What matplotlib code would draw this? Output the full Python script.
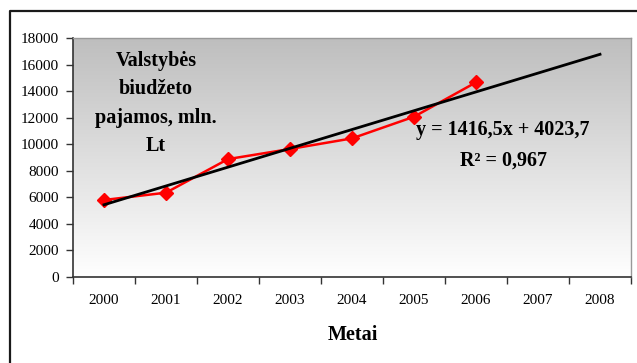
import numpy as np
import matplotlib
matplotlib.use("Agg")
import matplotlib.pyplot as plt
from matplotlib.lines import Line2D

plt.rcParams['font.family'] = ['Liberation Serif', 'DejaVu Serif']

# Budget revenue data (mln. Lt)
years = ['2000', '2001', '2002', '2003', '2004', '2005', '2006', '2007', '2008']
revenue = [5800, 6350, 8880, 9640, 10440, 12070, 14660]
# Linear trend reported for the series (x = 1, 2, ...)
trend_slope = 1416.5
trend_intercept = 4023.7
yticks = [0, 2000, 4000, 6000, 8000, 10000, 12000, 14000, 16000, 18000]

W, H = 637, 363
fig = plt.figure(figsize=(W / 100, H / 100), dpi=100)
fig.patch.set_facecolor('white')

# outer chart frame (left and top edges)
fig.add_artist(Line2D([9.5 / W, 9.5 / W, 1.0], [0.0, 1 - 10.5 / H, 1 - 10.5 / H],
                      transform=fig.transFigure, color='#1a1a1a', lw=1.6))

ax = fig.add_axes([73 / W, 1 - 277 / H, (631 - 73) / W, (277 - 38) / H])

# white-to-grey vertical gradient for the plot area (grey at the top)
grad = np.linspace(0, 1, 256).reshape(-1, 1)
cmap = matplotlib.colors.LinearSegmentedColormap.from_list('pa', ['#ffffff', '#bebebe'])
ax.imshow(grad, aspect='auto', cmap=cmap, extent=[-0.5, 8.5, 0, 18000],
          origin='lower', zorder=0)

x = np.arange(len(revenue))
ax.plot(x, revenue, color='#ff0000', lw=1.8, marker='D', markersize=7.5,
        markerfacecolor='#ff0000', markeredgecolor='#ff0000', zorder=3)

xt = np.arange(len(years))
ax.plot(xt, trend_slope * (xt + 1) + trend_intercept, color='black', lw=2.0, zorder=4)

ax.set_xlim(-0.5, 8.5)
ax.set_ylim(0, 18000)
ax.set_xticks(xt)
ax.set_xticklabels(years)
ax.set_xticks(np.arange(-0.5, 9.0, 1.0), minor=True)
ax.tick_params(axis='x', which='major', length=0, pad=12, labelsize=11)
ax.tick_params(axis='x', which='minor', length=5, width=1, direction='out', color='#333333')
ax.set_yticks(yticks)
ax.tick_params(axis='y', length=5, width=1, direction='out', pad=5, labelsize=11,
               color='#333333')

for side in ['top', 'right']:
    ax.spines[side].set_color('#999999')
    ax.spines[side].set_linewidth(1.0)
for side in ['left', 'bottom']:
    ax.spines[side].set_color('#333333')
    ax.spines[side].set_linewidth(1.2)

fig.text(156 / W, 1 - 103.5 / H, 'Valstybės\nbiudžeto\npajamos, mln.\nLt',
         ha='center', va='center', fontsize=14.5, fontweight='bold', linespacing=1.55)
fig.text(503 / W, 1 - 130 / H, 'y = 1416,5x + 4023,7', ha='center', va='center',
         fontsize=14.5, fontweight='bold')
fig.text(504 / W, 1 - 161 / H, 'R² = 0,967', ha='center', va='center',
         fontsize=14.5, fontweight='bold')
fig.text(353 / W, 1 - 335 / H, 'Metai', ha='center', va='center',
         fontsize=14.5, fontweight='bold')

fig.savefig('out.png', dpi=100, facecolor='white')
